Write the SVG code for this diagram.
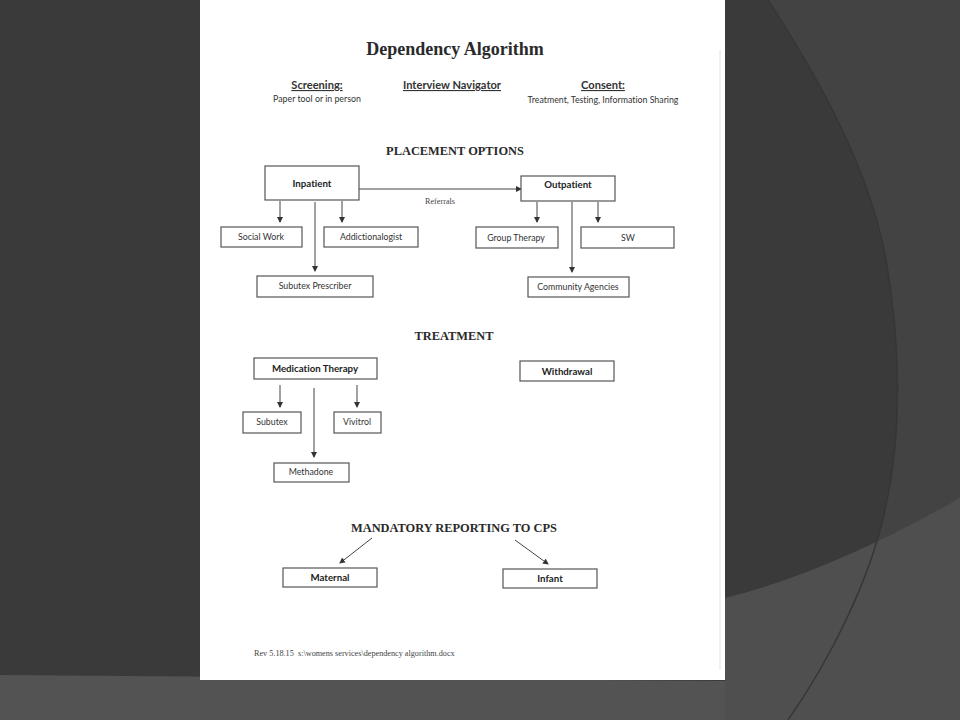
<svg xmlns="http://www.w3.org/2000/svg" width="960" height="720" viewBox="0 0 960 720">
<defs>
<style>
text{font-variant-ligatures:none}
.box{fill:#fff;stroke:#555;stroke-width:1.2}
.ln{stroke:#444;stroke-width:1;fill:none}
.hs{font-family:"Liberation Serif",serif;font-weight:bold;fill:#2a2a2a;text-anchor:middle}
.bt{font-family:Lato,"Liberation Sans",sans-serif;font-weight:bold;font-size:9.7px;fill:#222;text-anchor:middle}
.nt{font-family:Lato,"Liberation Sans",sans-serif;font-size:8.8px;fill:#333;text-anchor:middle}
.ul{font-family:Lato,"Liberation Sans",sans-serif;font-weight:bold;font-size:11.1px;fill:#333;text-anchor:middle;text-decoration:underline}
.sm{font-family:Lato,"Liberation Sans",sans-serif;font-size:8.8px;fill:#333;text-anchor:middle}
.sr{font-family:"Liberation Serif",serif;font-size:8.2px;fill:#444}
</style>
<marker id="ah" markerWidth="6" markerHeight="6" refX="5" refY="3" orient="auto" markerUnits="userSpaceOnUse">
<path d="M0,0 L6,3 L0,6 Z" fill="#333"/>
</marker>
</defs>
<g id="background">
<rect x="0" y="0" width="960" height="720" fill="#3a3a3a"/>
<path d="M768,0 C820,80 870,170 886,260 C900,340 903,430 885,510 C870,580 830,660 788,720 L960,720 L960,0 Z" fill="#434343"/>
<path d="M725,598 Q830,572 960,498 L960,720 L725,720 Z" fill="#4f4f4f"/>
<path d="M768,0 C820,80 870,170 886,260 C900,340 903,430 885,510 C870,580 830,660 788,720" fill="none" stroke="#363636" stroke-width="1.5"/>
<path d="M0,675 L725,681 L725,720 L0,720 Z" fill="#535353"/>
<rect x="200" y="0" width="525" height="680" fill="#fff"/>
<line x1="720" y1="50" x2="720" y2="670" stroke="#e2e2e2" stroke-width="1"/>
</g>
<g id="header">
<text class="hs" x="455" y="55" font-size="18">Dependency Algorithm</text>
<text class="ul" x="317" y="89">Screening:</text>
<text class="sm" x="317" y="102">Paper tool or in person</text>
<text class="ul" x="452" y="89">Interview Navigator</text>
<text class="ul" x="603" y="89">Consent:</text>
<text class="sm" x="603" y="103">Treatment, Testing, Information Sharing</text>
<text class="hs" x="455" y="155" font-size="12.4">PLACEMENT OPTIONS</text>
<text class="hs" x="454" y="340" font-size="12.4">TREATMENT</text>
<text class="hs" x="454" y="532" font-size="12.4">MANDATORY REPORTING TO CPS</text>
<text class="sr" x="254" y="656">Rev 5.18.15</text>
<text class="sr" x="298" y="656" font-size="8.8">s:\womens services\dependency algorithm.docx</text>
</g>
<g id="connectors">
<line class="ln" x1="359" y1="189" x2="521" y2="189" marker-end="url(#ah)"/>
<text class="sr" x="440" y="204" text-anchor="middle">Referrals</text>
<line class="ln" x1="280" y1="201" x2="280" y2="222" marker-end="url(#ah)"/>
<line class="ln" x1="342" y1="201" x2="342" y2="222" marker-end="url(#ah)"/>
<line class="ln" x1="315" y1="202" x2="315" y2="271" marker-end="url(#ah)"/>
<line class="ln" x1="537" y1="202" x2="537" y2="222" marker-end="url(#ah)"/>
<line class="ln" x1="598" y1="202" x2="598" y2="222" marker-end="url(#ah)"/>
<line class="ln" x1="572" y1="202" x2="572" y2="272" marker-end="url(#ah)"/>
<line class="ln" x1="280" y1="385" x2="280" y2="407" marker-end="url(#ah)"/>
<line class="ln" x1="357" y1="385" x2="357" y2="407" marker-end="url(#ah)"/>
<line class="ln" x1="314" y1="388" x2="314" y2="457" marker-end="url(#ah)"/>
<line class="ln" x1="372" y1="538" x2="340" y2="563" marker-end="url(#ah)"/>
<line class="ln" x1="515" y1="540" x2="548" y2="564" marker-end="url(#ah)"/>
</g>
<g id="inpatient"><rect class="box" x="265" y="166" width="94" height="34"/><text class="bt" x="312" y="187">Inpatient</text></g>
<g id="outpatient"><rect class="box" x="521" y="176" width="94" height="25"/><text class="bt" x="568" y="188">Outpatient</text></g>
<g id="social-work"><rect class="box" x="221" y="227" width="81" height="20"/><text class="nt" x="261" y="240">Social Work</text></g>
<g id="addictionalogist"><rect class="box" x="324" y="227" width="94" height="20"/><text class="nt" x="371" y="240">Addictionalogist</text></g>
<g id="subutex-prescriber"><rect class="box" x="257" y="276" width="116" height="21"/><text class="nt" x="315" y="289">Subutex Prescriber</text></g>
<g id="group-therapy"><rect class="box" x="476" y="227" width="82" height="21"/><text class="nt" x="516" y="241">Group Therapy</text></g>
<g id="sw"><rect class="box" x="581" y="227" width="93" height="21"/><text class="nt" x="628" y="241">SW</text></g>
<g id="community-agencies"><rect class="box" x="528" y="277" width="101" height="20"/><text class="nt" x="578" y="290">Community Agencies</text></g>
<g id="medication-therapy"><rect class="box" x="254" y="358" width="123" height="21"/><text class="bt" x="315" y="372">Medication Therapy</text></g>
<g id="withdrawal"><rect class="box" x="520" y="361" width="94" height="20"/><text class="bt" x="567" y="375">Withdrawal</text></g>
<g id="subutex"><rect class="box" x="243" y="412" width="58" height="21"/><text class="nt" x="272" y="425">Subutex</text></g>
<g id="vivitrol"><rect class="box" x="334" y="412" width="47" height="21"/><text class="nt" x="357" y="425">Vivitrol</text></g>
<g id="methadone"><rect class="box" x="274" y="463" width="75" height="19"/><text class="nt" x="311" y="475">Methadone</text></g>
<g id="maternal"><rect class="box" x="283" y="568" width="94" height="19"/><text class="bt" x="330" y="581">Maternal</text></g>
<g id="infant"><rect class="box" x="503" y="569" width="94" height="19"/><text class="bt" x="550" y="582">Infant</text></g>
</svg>
